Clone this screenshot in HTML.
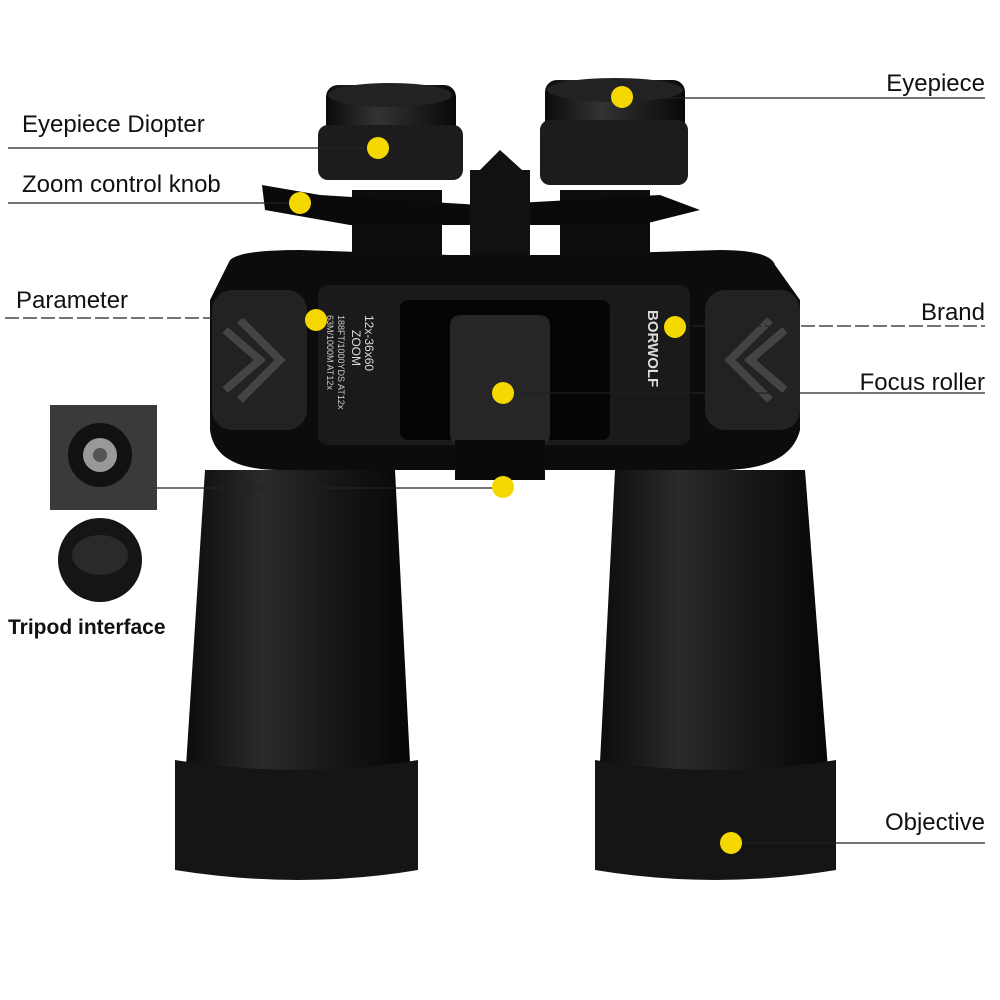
<!DOCTYPE html>
<html><head><meta charset="utf-8"><style>
html,body{margin:0;padding:0;background:#fff;width:1000px;height:1000px;overflow:hidden}
svg{display:block}
text{font-family:"Liberation Sans",sans-serif;fill:#111}
</style></head><body>
<svg width="1000" height="1000" viewBox="0 0 1000 1000" xmlns="http://www.w3.org/2000/svg">
<defs>
<linearGradient id="barrel" x1="0" x2="1" y1="0" y2="0">
<stop offset="0" stop-color="#0a0a0a"/><stop offset="0.35" stop-color="#2a2a2a"/><stop offset="0.6" stop-color="#1a1a1a"/><stop offset="1" stop-color="#050505"/>
</linearGradient>
<linearGradient id="ep" x1="0" x2="1"><stop offset="0" stop-color="#0b0b0b"/><stop offset="0.4" stop-color="#333"/><stop offset="1" stop-color="#080808"/></linearGradient>
</defs>
<rect width="1000" height="1000" fill="#fff"/>
<!-- objective barrels -->
<path d="M205 470 L395 470 L415 860 Q300 885 180 860 Z" fill="url(#barrel)"/>
<path d="M175 760 Q300 780 418 760 L418 870 Q300 890 175 870 Z" fill="#151515"/>
<path d="M615 470 L805 470 L835 860 Q715 885 595 860 Z" fill="url(#barrel)"/>
<path d="M595 760 Q715 780 836 760 L836 870 Q715 890 595 870 Z" fill="#151515"/>
<!-- eyepiece columns -->
<rect x="352" y="190" width="90" height="80" fill="#0d0d0d"/>
<rect x="560" y="190" width="90" height="80" fill="#0d0d0d"/>
<!-- eyepieces -->
<rect x="326" y="85" width="130" height="55" rx="12" fill="url(#ep)"/>
<rect x="318" y="125" width="145" height="55" rx="10" fill="#1c1c1c"/>
<rect x="545" y="80" width="140" height="55" rx="12" fill="url(#ep)"/>
<rect x="540" y="120" width="148" height="65" rx="10" fill="#1c1c1c"/>
<ellipse cx="390" cy="95" rx="62" ry="12" fill="#222"/>
<ellipse cx="615" cy="90" rx="68" ry="12" fill="#222"/>
<!-- bridge and zoom knob -->
<path d="M262 185 L320 195 L480 205 L660 195 L700 210 L640 225 L350 225 L265 210 Z" fill="#0a0a0a"/>
<rect x="470" y="170" width="60" height="130" fill="#111"/>
<path d="M480 170 L500 150 L522 170 Z" fill="#111"/>
<!-- body -->
<path d="M230 260 Q240 250 300 250 L450 255 L560 255 L720 250 Q770 250 775 265 L800 300 L800 430 Q790 470 720 470 L280 470 Q215 470 210 430 L210 300 Z" fill="#0c0c0c"/>
<rect x="212" y="290" width="95" height="140" rx="20" fill="#222"/>
<rect x="705" y="290" width="95" height="140" rx="20" fill="#222"/>
<path d="M225 330 L260 360 L225 390 M240 320 L280 360 L240 400" stroke="#444" stroke-width="8" fill="none"/>
<path d="M785 330 L750 360 L785 390 M770 320 L730 360 L770 400" stroke="#444" stroke-width="8" fill="none"/>
<rect x="318" y="285" width="372" height="160" rx="10" fill="#1a1a1a"/>
<rect x="400" y="300" width="210" height="140" rx="8" fill="#050505"/>
<rect x="450" y="315" width="100" height="130" rx="10" fill="#262626"/>
<rect x="455" y="440" width="90" height="40" fill="#0a0a0a"/>
<text x="0" y="0" transform="translate(365 315) rotate(90)" font-size="12" style="fill:#ddd">12x-36x60</text>
<text x="0" y="0" transform="translate(352 330) rotate(90)" font-size="12" style="fill:#ddd">ZOOM</text>
<text x="0" y="0" transform="translate(338 315) rotate(90)" font-size="9" style="fill:#ccc">188FT/1000YDS AT12x</text>
<text x="0" y="0" transform="translate(327 315) rotate(90)" font-size="9" style="fill:#ccc">63M/1000M AT12x</text>
<text x="0" y="0" transform="translate(648 310) rotate(90)" font-size="15" font-weight="bold" style="fill:#ddd">BORWOLF</text>
<!-- tripod inset -->
<rect x="50" y="405" width="107" height="105" fill="#3a3a3a"/>
<circle cx="100" cy="455" r="32" fill="#111"/>
<circle cx="100" cy="455" r="17" fill="#999"/>
<circle cx="100" cy="455" r="7" fill="#555"/>
<circle cx="100" cy="560" r="42" fill="#151515"/>
<ellipse cx="100" cy="555" rx="28" ry="20" fill="#2a2a2a"/>
<!-- lines -->
<g stroke="#222" stroke-width="1.3" fill="none">
<line x1="8" y1="148" x2="378" y2="148"/>
<line x1="8" y1="203" x2="300" y2="203"/>
<line x1="5" y1="318" x2="316" y2="318" stroke-dasharray="14 4"/>
<line x1="622" y1="98" x2="985" y2="98"/>
<line x1="675" y1="326" x2="985" y2="326" stroke-dasharray="14 4"/>
<line x1="503" y1="393" x2="985" y2="393"/>
<line x1="157" y1="488" x2="503" y2="488"/>
<line x1="731" y1="843" x2="985" y2="843"/>
</g>
<g fill="#f5d800">
<circle cx="378" cy="148" r="11"/>
<circle cx="300" cy="203" r="11"/>
<circle cx="316" cy="320" r="11"/>
<circle cx="622" cy="97" r="11"/>
<circle cx="675" cy="327" r="11"/>
<circle cx="503" cy="393" r="11"/>
<circle cx="503" cy="487" r="11"/>
<circle cx="731" cy="843" r="11"/>
</g>
<g font-size="24">
<text x="22" y="132">Eyepiece Diopter</text>
<text x="22" y="192">Zoom control knob</text>
<text x="16" y="308">Parameter</text>
<text x="985" y="91" text-anchor="end">Eyepiece</text>
<text x="985" y="320" text-anchor="end">Brand</text>
<text x="985" y="390" text-anchor="end">Focus roller</text>
<text x="985" y="830" text-anchor="end">Objective</text>
</g>
<text x="8" y="634" font-size="21" font-weight="bold">Tripod interface</text>
</svg>
</body></html>
